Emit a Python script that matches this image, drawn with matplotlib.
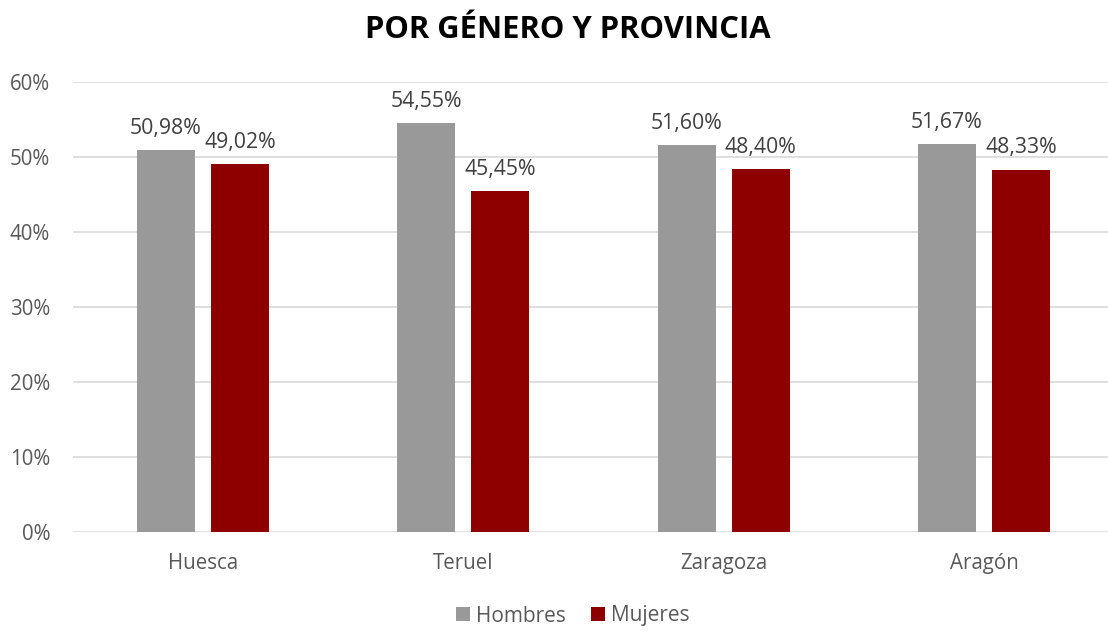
import numpy as np
import matplotlib.pyplot as plt
from matplotlib.ticker import FuncFormatter

provincias = ['Huesca', 'Teruel', 'Zaragoza', 'Aragón']
hombres = [50.98, 54.55, 51.60, 51.67]
mujeres = [49.02, 45.45, 48.40, 48.33]

plt.rcParams['font.family'] = ['Open Sans', 'DejaVu Sans']

fig = plt.figure(figsize=(11.08, 6.31), dpi=100)
ax = fig.add_axes([73 / 1108, 1 - 532 / 631, (1108 - 73) / 1108, 450 / 631])

x = np.arange(len(provincias))
w = 0.223
off = 0.142
b1 = ax.bar(x - off, hombres, w, color='#999999', label='Hombres', zorder=3)
b2 = ax.bar(x + off, mujeres, w, color='#8E0000', label='Mujeres', zorder=3)

for bars, vals in [(b1, hombres), (b2, mujeres)]:
    for rect, v in zip(bars, vals):
        ax.annotate(f'{v:.2f}%'.replace('.', ','),
                    (rect.get_x() + rect.get_width() / 2, v),
                    xytext=(0, 8), textcoords='offset points',
                    ha='center', va='bottom', fontsize=15.3, color='#404040')

ax.set_ylim(0, 60)
ax.set_yticks(range(0, 61, 10))
ax.yaxis.set_major_formatter(FuncFormatter(lambda v, p: f'{v:.0f}%'))
ax.set_xlim(-(203 - 73) / 260.3, (1108 - 203) / 260.3)
ax.set_xticks(x)
ax.set_xticklabels(provincias)
ax.tick_params(axis='both', length=0, labelsize=14.8, labelcolor='#595959')
ax.tick_params(axis='x', pad=15)
ax.tick_params(axis='y', pad=16.5)
ax.grid(axis='y', color='#D9D9D9', linewidth=1.2, zorder=0)
for s in ax.spines.values():
    s.set_visible(False)

fig.suptitle('POR GÉNERO Y PROVINCIA', x=568 / 1108, y=0.977, fontsize=22.3,
             fontweight='bold', color='black')
fig.legend(loc='center', bbox_to_anchor=(573 / 1108, 1 - 616 / 631), ncol=2,
           frameon=False, fontsize=15, labelcolor='#595959',
           handlelength=0.65, handleheight=0.65, handletextpad=0.3,
           columnspacing=1.2)

fig.savefig('out.png', dpi=100)
